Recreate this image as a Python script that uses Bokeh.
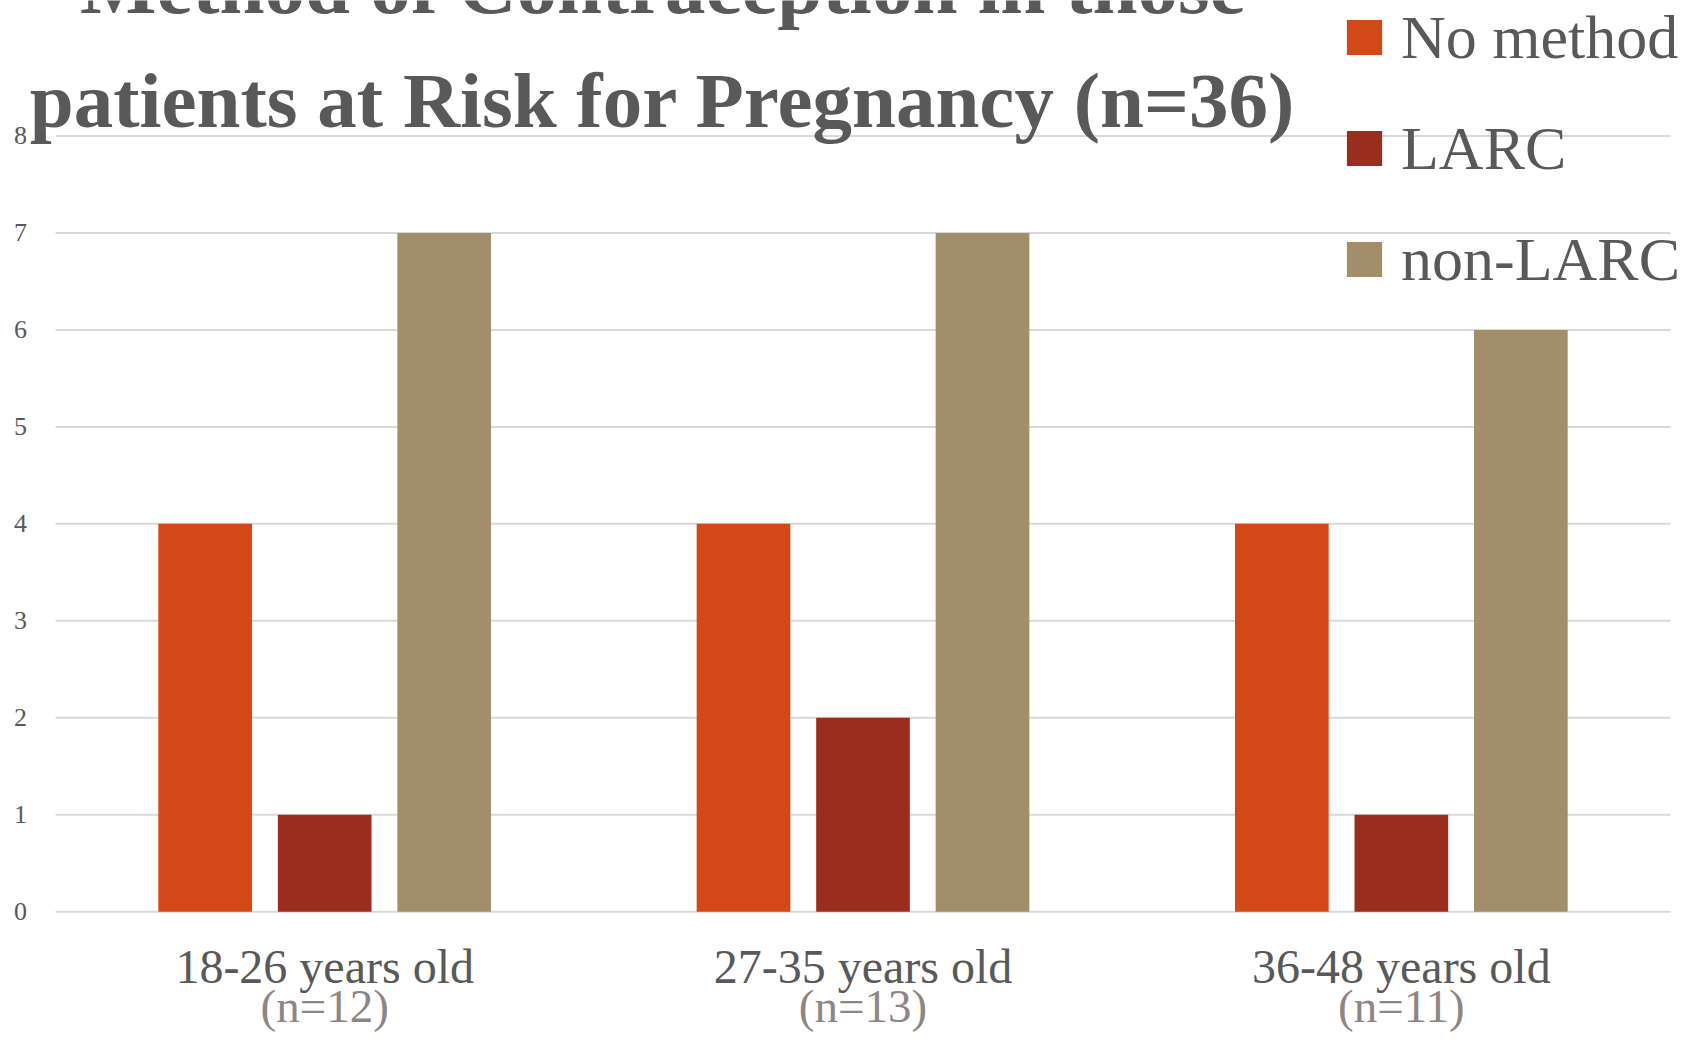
import numpy as np
from bokeh.plotting import figure
from bokeh.models import Range1d, Label, Legend, LegendItem, ColumnDataSource
from bokeh.core.properties import value
from bokeh.embed import file_html
from bokeh.resources import INLINE

categories = ["18-26 years old", "27-35 years old", "36-48 years old"]
n_labels = ["(n=12)", "(n=13)", "(n=11)"]
no_method = [4, 4, 4]
larc = [1, 2, 1]
non_larc = [7, 7, 6]
series_names = ["No method", "LARC", "non-LARC"]
colors = ["#D34817", "#9B2D1F", "#A28E6A"]
title_lines = ["Method of Contraception in those", "patients at Risk for Pregnancy (n=36)"]
y_ticks = [0, 1, 2, 3, 4, 5, 6, 7, 8]

FONT = "Liberation Serif"
GRAY = "#595959"

ncat = len(categories)
p = figure(width=1684, height=1034, x_range=Range1d(-0.1022, ncat + 0.026),
           y_range=Range1d(-1.266, 9.397), output_backend="svg", toolbar_location=None,
           min_border_left=0, min_border_right=0, min_border_top=0, min_border_bottom=0)
p.outline_line_color = None
p.background_fill_color = "white"
p.xaxis.visible = False
p.yaxis.visible = False
p.xgrid.grid_line_color = None
p.ygrid.grid_line_color = None

# horizontal gridlines spanning the category area
grid_src = ColumnDataSource(dict(y=y_ticks, x0=[0] * len(y_ticks), x1=[ncat] * len(y_ticks),
                                 lab=[str(t) for t in y_ticks]))
p.segment(x0="x0", x1="x1", y0="y", y1="y", source=grid_src, line_color="#D9D9D9", line_width=2)
# y tick labels
p.text(x=-0.065, y="y", text="lab", source=grid_src, text_align="center", text_baseline="middle",
       text_font=value(FONT), text_font_size="26px", text_color=GRAY)

centers = np.arange(ncat) + 0.5
offsets = [-0.222, 0.0, 0.222]
renderers = []
for vals, off, col in zip([no_method, larc, non_larc], offsets, colors):
    r = p.vbar(x=centers + off, top=vals, width=0.174, bottom=0,
               fill_color=col, line_color=None)
    renderers.append(r)

# category labels (two lines)
for i, (c, n) in enumerate(zip(categories, n_labels)):
    p.add_layout(Label(x=centers[i], y=-0.565, text=c, text_align="center", text_baseline="middle",
                       text_font=FONT, text_font_size="48px", text_color=GRAY))
    p.add_layout(Label(x=centers[i], y=-0.975, text=n, text_align="center", text_baseline="middle",
                       text_font=FONT, text_font_size="47px", text_color="#8E8584"))

# title (two lines)
for line, yy, fs in zip(title_lines, [9.55, 8.37], ["81px", "79px"]):
    p.add_layout(Label(x=1.128, y=yy, text=line, text_align="center",
                       text_baseline="alphabetic", text_font=FONT, text_font_size=fs,
                       text_font_style="bold", text_color=GRAY))

legend = Legend(items=[LegendItem(label=n, renderers=[r]) for n, r in zip(series_names, renderers)],
                location=(1342, 739), orientation="vertical",
                glyph_width=44, glyph_height=44, label_height=72, spacing=39,
                label_standoff=15, padding=0, margin=0,
                label_text_font=FONT, label_text_font_size="62px", label_text_color=GRAY,
                border_line_color=None, background_fill_alpha=0)
p.add_layout(legend, "center")

open("out.html", "w").write(file_html(p, INLINE))
